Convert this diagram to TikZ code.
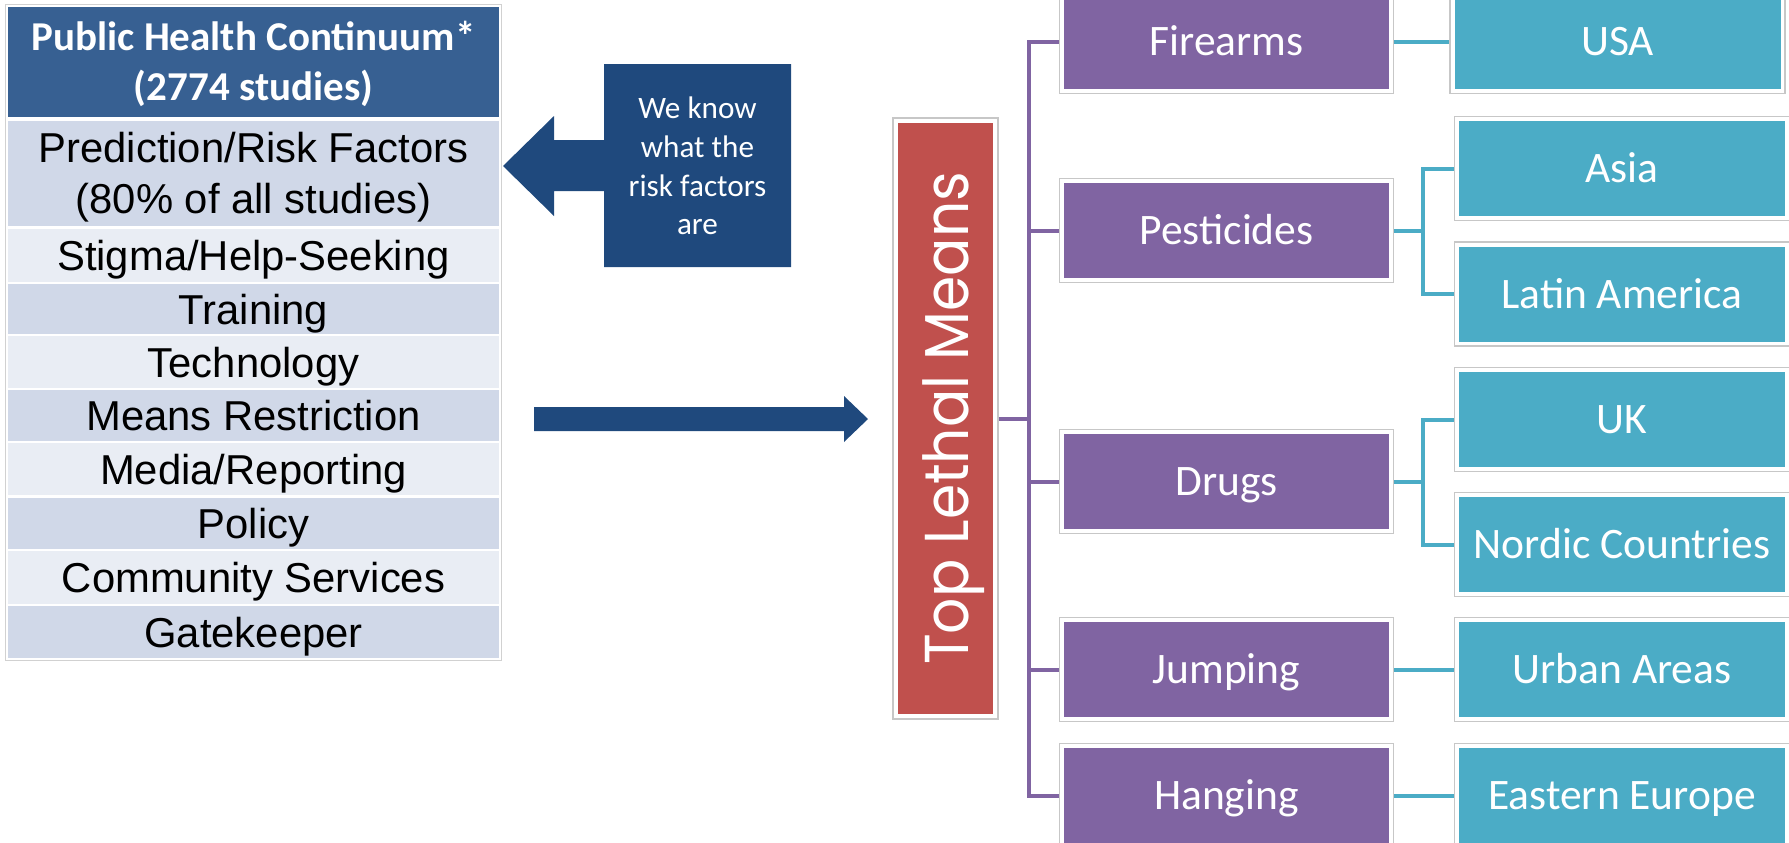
\documentclass[tikz,border=0pt]{standalone}
\usepackage{fontspec}
\usepackage{graphicx}
\setmainfont{Liberation Sans}
\newfontfamily\calfont{Carlito}
\newfontfamily\geofont{Poppins}
\definecolor{hdrblue}{HTML}{376092}
\definecolor{rowdark}{HTML}{D0D8E8}
\definecolor{rowlight}{HTML}{E9EDF4}
\definecolor{navy}{HTML}{1F497D}
\definecolor{redc}{HTML}{C0504D}
\definecolor{purp}{HTML}{8064A2}
\definecolor{tealc}{HTML}{4BACC6}
\newcommand{\mybox}[5]{\node[#3] (f#1) at (#2) {}; \node[#4] (#1) at (#2) {#5};}
\begin{document}
\begin{tikzpicture}[x=0.5pt,y=-0.5pt,
  cell/.style={minimum width=245.5pt, inner sep=0pt, text=black,
    font=\fontsize{20.9}{25.5}\selectfont, text height=15pt, text depth=0pt},
  darkcell/.style={cell, fill=rowdark},
  lightcell/.style={cell, fill=rowlight},
  hdrcell/.style={fill=hdrblue, minimum width=245.5pt, minimum height=55pt, inner sep=0pt,
    text=white, align=center, font=\calfont\bfseries\fontsize{20.5}{25}\selectfont},
  pbox/.style={fill=purp, text=white, font=\calfont\fontsize{21.75}{24}\selectfont,
    minimum width=162.5pt, minimum height=47.5pt, inner sep=0pt, text height=14pt, text depth=0pt},
  tbox/.style={pbox, fill=tealc, minimum width=163pt},
  pfrm/.style={fill=white, draw=black!22, line width=0.6pt, minimum width=167pt,
    minimum height=52pt, inner sep=0pt},
  tfrm/.style={pfrm, minimum width=167.5pt},
  pline/.style={draw=purp, line width=2pt},
  tline/.style={draw=tealc, line width=2pt},
  arrowshape/.style={fill=navy, draw=none}
]
\useasboundingbox (0,0) rectangle (1789,842);
\clip (0,0) rectangle (1789,842);

% ---- table ----
\draw[draw=black!18, fill=white, line width=0.5pt] (5,4) rectangle (501,660);
\node[hdrcell, text depth=1pt] (hdr) at (253.5,62) {Public Health Continuum*\\(2774 studies)};
\node[darkcell, minimum height=52.5pt, align=center, text height=, text depth=1pt] (r1) at (253.5,173.5)
  {Prediction/Risk Factors\\(80\% of all studies)};
\node[lightcell, minimum height=26.5pt] (r2) at (253.5,255.5) {Stigma/Help-Seeking};
\node[darkcell, minimum height=25pt] (r3) at (253.5,309) {Training};
\node[lightcell, minimum height=26pt] (r4) at (253.5,362) {Technology};
\node[darkcell, minimum height=25.5pt] (r5) at (253.5,415.5) {Means Restriction};
\node[lightcell, minimum height=26pt] (r6) at (253.5,469) {Media/Reporting};
\node[darkcell, minimum height=25.5pt] (r7) at (253.5,523.5) {Policy};
\node[lightcell, minimum height=26.5pt] (r8) at (253.5,577.5) {Community Services};
\node[darkcell, minimum height=26pt] (r9) at (253.5,632) {Gatekeeper};

% ---- callout arrow ----
\fill[arrowshape] (503,166) -- (554,116) -- (554,140) -- (604,140) -- (604,64) -- (791,64)
  -- (791,267) -- (604,267) -- (604,191) -- (554,191) -- (554,216) -- cycle;
\node[text=white, align=center, font=\calfont\fontsize{15.6}{19.4}\selectfont] (callout) at (697.5,166)
  {We know\\what the\\risk factors\\are};

% ---- big right arrow ----
\fill[arrowshape] (534,407) -- (844,407) -- (844,396) -- (868,419) -- (844,442) -- (844,431) -- (534,431) -- cycle;

% ---- red box ----
\node[fill=white, draw=black!22, line width=0.6pt, minimum width=52.5pt, minimum height=300.5pt, inner sep=0pt]
  (ftlm) at (945.5,418.5) {};
\node[fill=redc, minimum width=47.5pt, minimum height=295.5pt, inner sep=0pt, text=white]
  (tlm) at (945.5,418.5)
  {\rotatebox{90}{\raisebox{0pt}[\height][0pt]{\geofont\fontsize{31}{31}\selectfont\scalebox{0.915}[1]{Top Lethal Means}}}};

% ---- purple boxes ----
\mybox{fire}{1226.5,41.5}{pfrm}{pbox}{Firearms}
\mybox{pest}{1226.5,230.5}{pfrm}{pbox}{Pesticides}
\mybox{drug}{1226.5,481.5}{pfrm}{pbox}{Drugs}
\mybox{jump}{1226.5,669.5}{pfrm}{pbox}{Jumping}
\mybox{hang}{1226.5,795.5}{pfrm}{pbox}{Hanging}

% ---- teal boxes ----
\mybox{usa}{1617.5,41.5}{tfrm}{tbox}{USA}
\mybox{asia}{1622,168.5}{tfrm}{tbox}{Asia}
\mybox{lat}{1622,294}{tfrm}{tbox}{Latin America}
\mybox{uk}{1622,419.5}{tfrm}{tbox}{UK}
\mybox{nor}{1622,544.5}{tfrm}{tbox}{Nordic Countries}
\mybox{urb}{1622,669.5}{tfrm}{tbox}{Urban Areas}
\mybox{ee}{1622,795.5}{tfrm}{tbox}{Eastern Europe}

% ---- purple connectors ----
\path (ftlm.east) ++(30,0) coordinate (tj);
\draw[pline] (ftlm.east) -- (tj);
\draw[pline] (ffire.west) -| (tj |- fhang.west) -- (fhang.west);
\foreach \n in {pest,drug,jump} \draw[pline] (tj |- f\n.west) -- (f\n.west);

% ---- teal connectors ----
\draw[tline] (ffire.east) -- (fusa.west);
\path (fpest.east) ++(29,0) coordinate (pj);
\draw[tline] (fpest.east) -- (pj);
\draw[tline] (fasia.west) -| (pj |- flat.west) -- (flat.west);
\path (fdrug.east) ++(29,0) coordinate (dj);
\draw[tline] (fdrug.east) -- (dj);
\draw[tline] (fuk.west) -| (dj |- fnor.west) -- (fnor.west);
\draw[tline] (fjump.east) -- (furb.west);
\draw[tline] (fhang.east) -- (fee.west);
\end{tikzpicture}
\end{document}
